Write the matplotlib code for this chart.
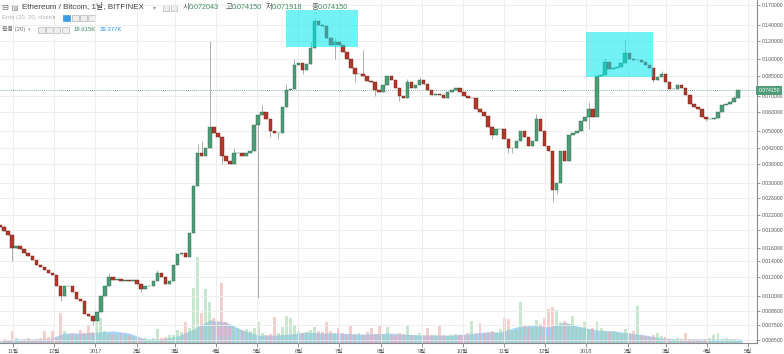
import datetime as dt
import numpy as np
import matplotlib
matplotlib.use('Agg')
import matplotlib.pyplot as plt
import matplotlib.dates as mdates
from matplotlib.patches import Rectangle

plt.rcParams['font.family'] = ['Liberation Sans', 'Noto Sans CJK KR', 'DejaVu Sans']

start = dt.date(2016, 10, 22)
step = 3
first_open = 0.0200
closes = [
    0.0195, 0.0188, 0.0180, 0.0160, 0.0162, 0.0158, 0.0152, 0.0148, 0.0142, 0.0135,
    0.0132, 0.0128, 0.0125, 0.0122, 0.0110, 0.0100, 0.0110, 0.0110, 0.0104, 0.0097,
    0.0095, 0.0084, 0.0082, 0.0078, 0.0085, 0.0100, 0.0110, 0.0120, 0.0117, 0.0118,
    0.0116, 0.0117, 0.0115, 0.0117, 0.0112, 0.0107, 0.0110, 0.0110, 0.0115, 0.0125,
    0.0120, 0.0112, 0.0115, 0.0135, 0.0150, 0.0152, 0.0146, 0.0185, 0.0290, 0.0400,
    0.0390, 0.0420, 0.0520, 0.0490, 0.0470, 0.0390, 0.0370, 0.0360, 0.0400, 0.0400,
    0.0390, 0.0400, 0.0410, 0.0530, 0.0580, 0.0600, 0.0560, 0.0500, 0.0490, 0.0490,
    0.0630, 0.0740, 0.0750, 0.0950, 0.0970, 0.0900, 0.0960, 0.1120, 0.1450, 0.1400,
    0.1380, 0.1230, 0.1150, 0.1180, 0.1150, 0.1080, 0.1000, 0.0920, 0.0870, 0.0870,
    0.0850, 0.0810, 0.0800, 0.0740, 0.0730, 0.0780, 0.0850, 0.0820, 0.0760, 0.0700,
    0.0690, 0.0800, 0.0760, 0.0780, 0.0820, 0.0790, 0.0740, 0.0710, 0.0715, 0.0710,
    0.0690, 0.0730, 0.0740, 0.0760, 0.0730, 0.0700, 0.0690, 0.0690, 0.0615, 0.0600,
    0.0575, 0.0520, 0.0480, 0.0510, 0.0510, 0.0460, 0.0420, 0.0420, 0.0450, 0.0500,
    0.0470, 0.0430, 0.0450, 0.0560, 0.0500, 0.0430, 0.0410, 0.0280, 0.0300, 0.0410,
    0.0370, 0.0480, 0.0490, 0.0500, 0.0550, 0.0570, 0.0620, 0.0570, 0.0850, 0.0860,
    0.0980, 0.0910, 0.0920, 0.0930, 0.0970, 0.1070, 0.1000, 0.0990, 0.0990, 0.0980,
    0.0950, 0.0920, 0.0820, 0.0840, 0.0870, 0.0800, 0.0750, 0.0750, 0.0780, 0.0760,
    0.0710, 0.0650, 0.0630, 0.0620, 0.0570, 0.0560, 0.0560, 0.0565, 0.0600, 0.0640,
    0.0645, 0.0660, 0.0690, 0.07415]

# only the wicks that stick out visibly
wick_high = {1: 0.0200, 9: 0.0140, 27: 0.0125, 39: 0.0128, 49: 0.0440, 50: 0.0450,
             52: 0.1200, 58: 0.0420, 65: 0.0640, 71: 0.0790, 73: 0.1000, 77: 0.1180,
             78: 0.1500, 83: 0.1230, 90: 0.1100, 101: 0.0830, 104: 0.0840, 133: 0.0590,
             146: 0.0660, 150: 0.1010, 155: 0.1220, 164: 0.0890, 182: 0.0700}
wick_low = {3: 0.0140, 15: 0.0095, 23: 0.0075, 35: 0.0104, 55: 0.0360, 64: 0.0098,
            67: 0.0470, 69: 0.0460, 75: 0.0870, 83: 0.1000, 88: 0.0800, 93: 0.0700,
            99: 0.0670, 122: 0.0460, 126: 0.0400, 127: 0.0400, 137: 0.0250, 138: 0.0270,
            146: 0.0510, 162: 0.0800, 175: 0.0550}

# volume (K) per candle
volumes = [
    25, 30, 20, 90, 35, 25, 30, 40, 25, 30, 35, 90, 45, 85, 40,
    220, 90, 60, 75, 60, 95, 70, 130, 80, 150, 180, 90, 70,
    65, 60, 70, 55, 60, 45,
    35, 30, 40, 30, 35, 100, 40,
    45, 55, 60, 95, 80, 150, 110,
    400, 630, 220, 390, 300, 180, 150, 440,
    150, 130, 120, 110, 95, 100, 90, 110, 150,
    70, 60, 65, 190, 70, 120, 200, 180, 130,
    85, 70, 80, 95, 120, 90, 80, 150, 90, 75, 110, 70,
    60, 130, 65, 70, 60, 80, 110, 65, 125, 60, 120,
    60, 55, 70, 65, 125, 60, 55, 70, 60, 110, 55, 60, 125, 55, 50, 60, 65, 55, 60, 70, 160, 75, 145, 70,
    80, 90, 75, 100, 180, 175, 90, 95,
    300, 130, 120, 110, 170, 140, 180,
    250, 260, 240, 150, 160, 140, 200,
    110, 120, 150, 100, 110,
    150, 110, 85, 80, 90,
    75, 70, 100, 75, 90, 270,
    55, 50, 45, 60, 75, 50, 45,
    30, 28, 35, 30, 75, 30, 28, 30, 25, 30, 35, 55, 75, 30, 35, 30, 28, 25]

# volume moving average (20), read every 12 days (K)
ma_step = 12
vol_ma = [15, 29, 29, 29, 73, 73, 80, 88, 73, 29, 29, 51, 102, 168, 153, 95, 58, 58,
          66, 80, 73, 73, 66, 66, 73, 66, 58, 58, 58, 66, 80, 80, 117, 131, 117, 153,
          117, 95, 88, 73, 58, 37, 29, 29, 29, 29, 29]

last_price = 0.074150
yticks = [0.17, 0.14, 0.12, 0.10, 0.085, 0.07, 0.06, 0.05, 0.042, 0.036, 0.03, 0.026,
          0.022, 0.019, 0.016, 0.014, 0.012, 0.010, 0.0086, 0.0075, 0.0065]
month_dates = [dt.date(2016, 11, 1), dt.date(2016, 12, 1)] + \
              [dt.date(2017, m, 1) for m in range(1, 13)] + \
              [dt.date(2018, m, 1) for m in range(1, 6)]
month_labels = ['11월', '12월', '2017', '2월', '3월', '4월', '5월', '6월', '7월', '8월',
                '9월', '10월', '11월', '12월', '2018', '2월', '3월', '4월', '5월']

W, H = 784, 354
fig = plt.figure(figsize=(W / 100, H / 100), dpi=100)
fig.patch.set_facecolor('white')
ax = fig.add_axes([0, 11 / H, 757 / W, 343 / H])
axv = ax.twinx()
ax.set_zorder(2)
axv.set_zorder(1)
ax.patch.set_visible(False)

t0 = mdates.date2num(start)
x = t0 + step * np.arange(len(closes))
c = np.array(closes)
o = np.concatenate([[first_open], c[:-1]])
hi = np.array([max(o[i], c[i], wick_high.get(i, 0)) for i in range(len(c))])
lo = np.array([min(o[i], c[i], wick_low.get(i, 1)) for i in range(len(c))])
up = c >= o

UP, DN = '#4E9C78', '#B0392C'
ax.vlines(x, lo, hi, color='#a0a0a0', lw=0.6, zorder=2)
ax.bar(x, np.abs(c - o), bottom=np.minimum(o, c), width=2.6,
       color=np.where(up, UP, DN), edgecolor=np.where(up, '#2E6B4F', '#6B1D15'),
       lw=0.3, zorder=3)

# volume + MA
xm = t0 + ma_step * np.arange(len(vol_ma))
axv.fill_between(xm, 0, vol_ma, color='#5DB3F2', alpha=0.55, lw=0, zorder=1)
axv.bar(x, volumes, width=2.2, color=np.where(up, '#9ED3A8', '#E8A9A4'), alpha=0.55,
        lw=0, zorder=2)
axv.set_ylim(0, 2500)
axv.set_yticks([])
for s in axv.spines.values():
    s.set_visible(False)

ax.set_yscale('log')
ax.set_ylim(0.00631, 0.1785)
ax.set_xlim(t0, t0 + 563)
ax.yaxis.tick_right()
ax.set_yticks(yticks)
ax.set_yticklabels(['%.6f' % v for v in yticks])
ax.yaxis.set_minor_locator(matplotlib.ticker.NullLocator())
ax.set_xticks([mdates.date2num(d) for d in month_dates])
ax.set_xticklabels(month_labels)
ax.tick_params(axis='y', which='major', length=2.5, width=0.5, pad=1.2, labelsize=3.7,
               colors='#666666', labelcolor='#555555')
ax.tick_params(axis='x', length=3, width=0.5, pad=1, labelsize=4,
               colors='#666666', labelcolor='#555555')
ax.grid(True, color='#EBEBEB', lw=0.6)
ax.set_axisbelow(True)
for k in ['top', 'left']:
    ax.spines[k].set_visible(False)
ax.spines['right'].set_color('#8a8a8a')
ax.spines['bottom'].set_color('#8a8a8a')
ax.spines['right'].set_linewidth(0.8)
ax.spines['bottom'].set_linewidth(0.8)

# highlighted zones drawn on the chart
for (d0, d1, p0, p1) in [(dt.date(2017, 5, 23), dt.date(2017, 7, 15), 0.1129, 0.162),
                         (dt.date(2018, 1, 1), dt.date(2018, 2, 20), 0.0843, 0.1307)]:
    a, b = mdates.date2num(d0), mdates.date2num(d1)
    ax.add_patch(Rectangle((a, p0), b - a, p1 - p0, fc='#00E8F0', alpha=0.55,
                           ec='none', zorder=4))

# last price line and label
ax.axhline(last_price, color='#4E9C78', lw=0.6, ls=(0, (1, 1.5)), zorder=1)
ax.text(1.002, last_price, '%.6f' % last_price, transform=ax.get_yaxis_transform(),
        ha='left', va='center', fontsize=3.7, color='white', zorder=10, clip_on=False,
        bbox=dict(boxstyle='square,pad=0.4', fc='#4E9C78', ec='none'))


# header legend
def ftext(xp, yp, s, size, color, **kw):
    fig.text(xp / W, 1 - yp / H, s, fontsize=size, color=color, va='center', ha='left', **kw)


def fbox(xp, yp, w, h, fc, ec='#b5b5b5'):
    fig.add_artist(Rectangle((xp / W, 1 - (yp + h) / H), w / W, h / H, fc=fc, ec=ec,
                             lw=0.5, transform=fig.transFigure))


ftext(1.5, 7.5, '⊟', 6, '#777777', family='DejaVu Sans')
fbox(12, 5, 5, 5, '#c8c8c8', '#8a8a8a')
ftext(22, 7.5, 'Ethereum / Bitcoin, 1날, BITFINEX', 5.8, '#444444')
ftext(153, 7.5, '▾', 4.5, '#999999', family='DejaVu Sans')
fbox(163, 5, 6, 5.5, '#eeeeee')
fbox(171, 5, 6, 5.5, '#eeeeee')
for xp, lab, val in [(183, '시', '0.072043'), (226, '고', '0.074150'),
                     (266, '저', '0.071918'), (312, '종', '0.074150')]:
    ftext(xp, 7.5, lab, 5.3, '#555555')
    ftext(xp + 5.5, 7.5, val, 5.2, '#3E8C64')

ftext(2, 18, 'Ema (20, 20, close)', 4.3, '#b3b3b3')
ftext(53, 18, '▾', 3.5, '#b3b3b3', family='DejaVu Sans')
fbox(63, 15, 7, 6, '#3D9BE0', '#3D9BE0')
for xp in (72, 80, 88):
    fbox(xp, 15, 6.5, 6, '#eeeeee')

ftext(2, 29.5, '볼륨 (20)', 4.3, '#777777')
ftext(28, 29.5, '▾', 3.5, '#999999', family='DejaVu Sans')
for xp in (38, 46, 54, 62):
    fbox(xp, 26.5, 6.5, 6, '#eeeeee')
ftext(74, 29.5, '18.615K', 4.3, '#3E8C64')
ftext(100, 29.5, '29.377K', 4.3, '#2196F3')

fig.savefig('out.png', dpi=100)
